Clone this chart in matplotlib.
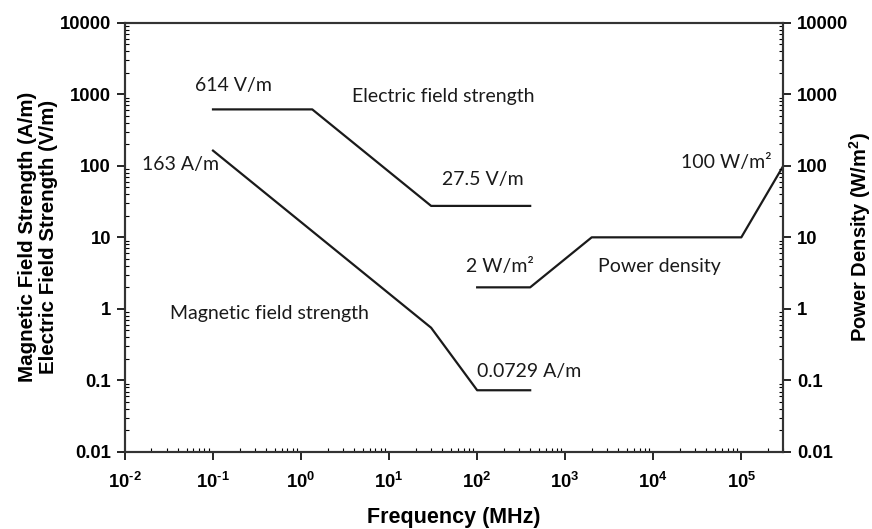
import matplotlib
matplotlib.use("Agg")
import matplotlib.pyplot as plt
from matplotlib.ticker import FixedLocator, LogLocator, NullFormatter

plt.rcParams['mathtext.fontset'] = 'custom'
plt.rcParams['mathtext.bf'] = 'Liberation Sans:bold'
plt.rcParams['mathtext.rm'] = 'Liberation Sans:bold'

# Data
e_freq = [0.1, 1.34, 30, 400]
e_val = [614, 614, 27.5, 27.5]
h_freq = [0.1, 30, 100, 400]
h_val = [163, 0.545, 0.0729, 0.0729]
s_freq = [100, 400, 2000, 1e5, 3e5]
s_val = [2, 2, 10, 10, 100]

x_ticks = [1e-2, 1e-1, 1e0, 1e1, 1e2, 1e3, 1e4, 1e5]
x_exps = ['-2', '-1', '0', '1', '2', '3', '4', '5']
y_ticks = [0.01, 0.1, 1, 10, 100, 1000, 10000]
y_labels = ['0.01', '0.1', '1', '10', '100', '1000', '10000']

annotations = [
    ("614 V/m", 0.063, 1310, 'left'),
    ("Electric field strength", 41.5, 917, 'center'),
    ("163 A/m", 0.0155, 103, 'left'),
    ("27.5 V/m", 39.5, 64, 'left'),
    ("100 W/m²", 2.2e5, 112, 'right'),
    ("2 W/m²", 75, 3.9, 'left'),
    ("Power density", 1.17e4, 3.9, 'center'),
    ("Magnetic field strength", 0.436, 0.865, 'center'),
    ("0.0729 A/m", 100, 0.134, 'left'),
]

fig = plt.figure(figsize=(8.72, 5.29), dpi=100)
ax = fig.add_axes([0.1433, 0.1456, 0.755, 0.8115])
ax.plot(e_freq, e_val, color='#1a1a1a', lw=1.6)
ax.plot(h_freq, h_val, color='#1a1a1a', lw=1.6)
ax.plot(s_freq, s_val, color='#1a1a1a', lw=1.6)
ax.set_xscale('log')
ax.set_yscale('log')
ax.set_xlim(1e-2, 3e5)
ax.set_ylim(0.01, 10000)

ax.xaxis.set_major_locator(FixedLocator(x_ticks))
x_labels = [r'$\mathbf{10^{\text{' + e + r'}}}$' for e in x_exps]
ax.set_xticklabels(x_labels)
ax.xaxis.set_minor_locator(LogLocator(base=10, subs=range(2, 10), numticks=20))
ax.xaxis.set_minor_formatter(NullFormatter())
ax.yaxis.set_major_locator(FixedLocator(y_ticks))
ax.set_yticklabels(y_labels)
ax.yaxis.set_minor_locator(LogLocator(base=10, subs=range(2, 10), numticks=20))
ax.yaxis.set_minor_formatter(NullFormatter())

ax2 = ax.twinx()
ax2.set_yscale('log')
ax2.set_ylim(0.01, 10000)
ax2.yaxis.set_major_locator(FixedLocator(y_ticks))
ax2.set_yticklabels(y_labels)
ax2.yaxis.set_minor_locator(LogLocator(base=10, subs=range(2, 10), numticks=20))
ax2.yaxis.set_minor_formatter(NullFormatter())

for a in (ax, ax2):
    for sp in a.spines.values():
        sp.set_linewidth(1.5)
        sp.set_color('#333333')
ax.tick_params(which='major', direction='out', length=6, width=1.2, labelsize=13.3, pad=4)
ax.tick_params(which='minor', direction='in', length=3, width=0.8)
ax.tick_params(axis='x', pad=8)
ax2.tick_params(which='major', direction='out', length=6, width=1.2, labelsize=13.3, pad=4)
ax2.tick_params(which='minor', direction='in', length=3, width=0.8)
for lab in ax.get_yticklabels() + ax2.get_yticklabels():
    lab.set_fontfamily('Liberation Sans')
    lab.set_fontweight('bold')

ax.set_xlabel('Frequency (MHz)', fontfamily='Liberation Sans', fontweight='bold', fontsize=15.5)
ax.xaxis.set_label_coords(0.5, -0.128)
ax.set_ylabel('Magnetic Field Strength (A/m)\nElectric Field Strength (V/m)', fontfamily='Liberation Sans',
              fontweight='bold', fontsize=14.8, linespacing=1.1)
ax.yaxis.set_label_coords(-0.102, 0.5)
ax2.set_ylabel(r'Power Density (W/m$^{\mathbf{2}}$)', fontfamily='Liberation Sans', fontweight='bold',
               fontsize=14.5)
ax2.yaxis.set_label_coords(1.097, 0.5)

for txt, x, y, ha in annotations:
    ax.text(x, y, txt, ha=ha, va='center', fontsize=14, fontfamily='Lato', color='#1a1a1a')

fig.savefig('out.png', dpi=100)
